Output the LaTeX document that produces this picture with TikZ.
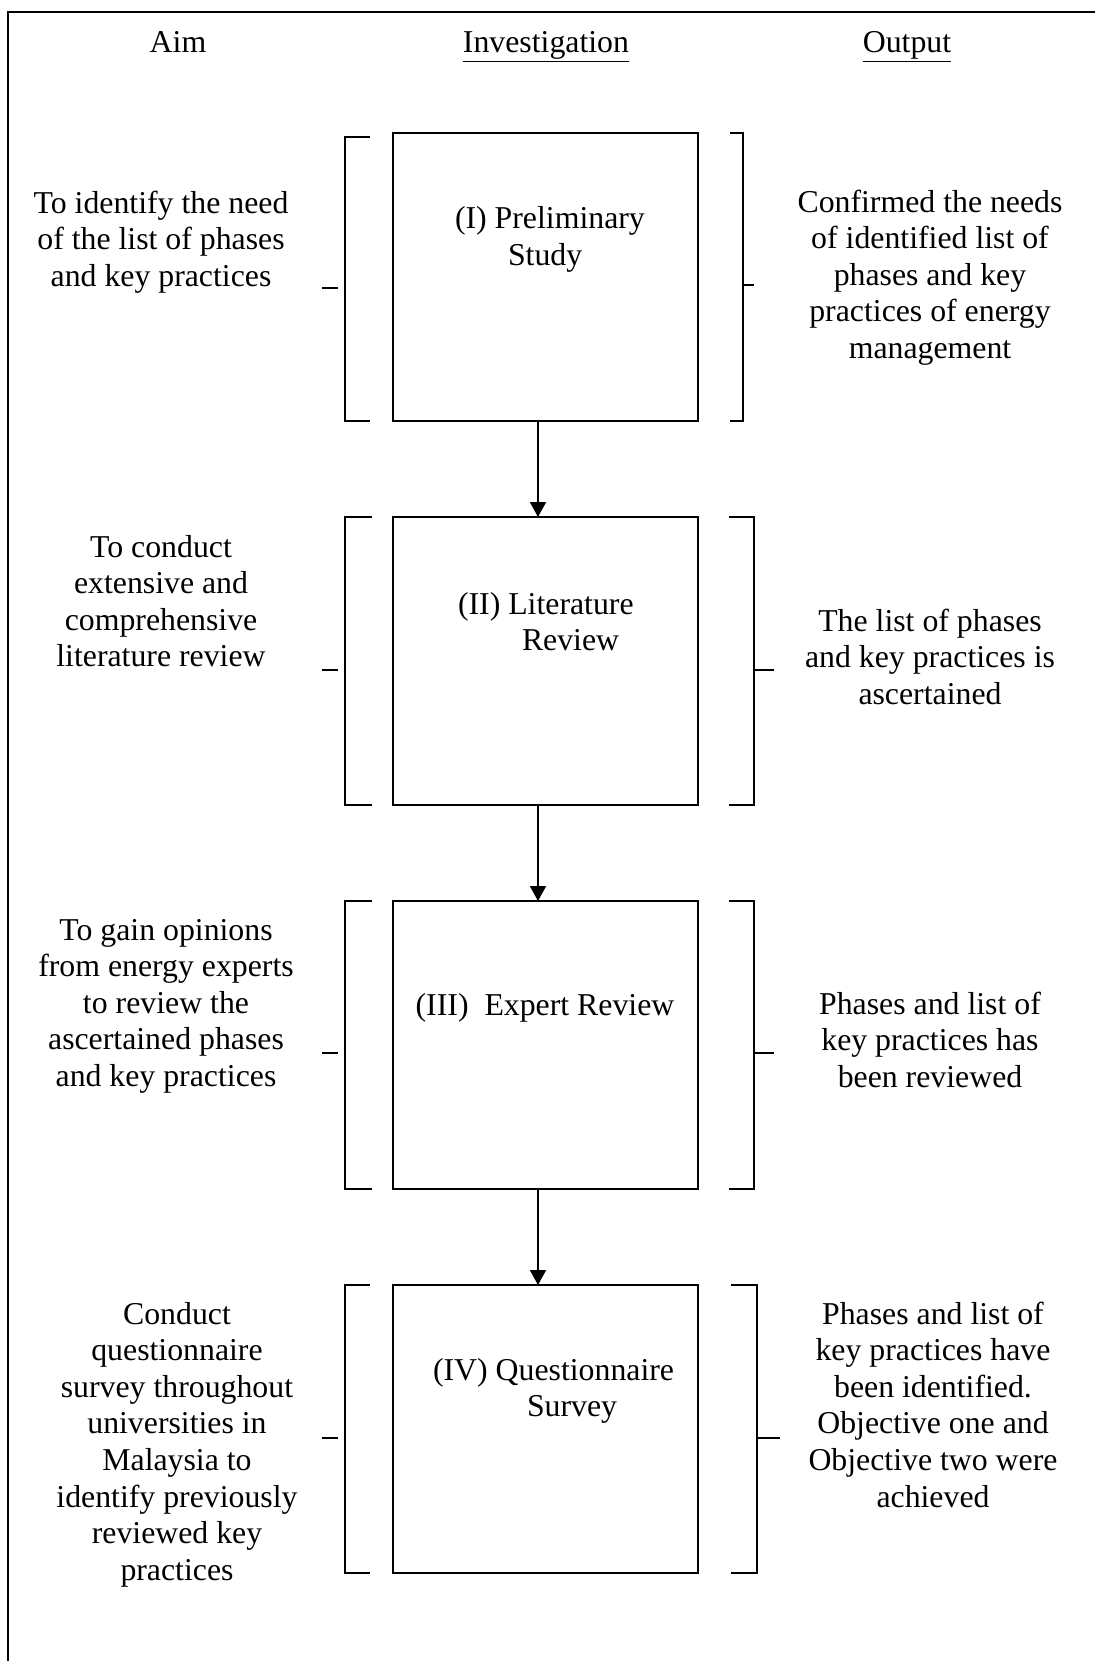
\documentclass[tikz,border=0pt]{standalone}
\usepackage{fontspec}
\setmainfont{Liberation Serif}
\usetikzlibrary{arrows.meta}
\begin{document}
\begin{tikzpicture}[x=0.5pt,y=-0.5pt,
  every node/.style={inner sep=0pt,outer sep=0pt,font=\fontsize{15.9}{18.3}\selectfont},
  stagebox/.style={draw,line width=1pt,minimum width=152.5pt,minimum height=144pt},
  ln/.style={line width=1pt},
  arr/.style={line width=1pt,-{Triangle[width=8pt,length=7.5pt]}},
  txt/.style={align=center,anchor=base},
  boxtxt/.style={align=left,anchor=base west}]
\useasboundingbox (0,0) rectangle (1095,1661);
% frame
\draw[ln] (1095,12) -- (8,12) -- (8,1661);
% headers
\node[anchor=base] (hAim) at (178,52) {Aim};
\node[anchor=base] (hInv) at (546,52) {\underline{Investigation}};
\node[anchor=base] (hOut) at (907,52) {\underline{Output}};
% boxes
\node[stagebox] (b1) at (545.5,277) {};
\node[stagebox] (b2) at (545.5,661) {};
\node[stagebox] (b3) at (545.5,1045) {};
\node[stagebox] (b4) at (545.5,1429) {};
% box texts (anchor at baseline of last line)
\node[boxtxt] (t1) at (455,265) {(I) Preliminary\\\hspace*{26.5pt}Study};
\node[boxtxt] (t2) at (458,650.6) {(II) Literature\\\hspace*{32pt}Review};
\node[anchor=base] (t3) at (545,1015) {(III)~ Expert Review};
\node[boxtxt] (t4) at (433,1416.6) {(IV) Questionnaire\\\hspace*{47pt}Survey};
% arrows
\draw[arr] ([xshift=-3.75pt]b1.south) -- ([xshift=-3.75pt]b2.north);
\draw[arr] ([xshift=-3.75pt]b2.south) -- ([xshift=-3.75pt]b3.north);
\draw[arr] ([xshift=-3.75pt]b3.south) -- ([xshift=-3.75pt]b4.north);
% left brackets and ticks
\draw[ln] (370,137) -- (345,137) -- (345,421) -- (370,421);
\draw[ln] (322,288) -- (338,288);
\draw[ln] (372,517) -- (345,517) -- (345,805) -- (372,805);
\draw[ln] (322,670) -- (338,670);
\draw[ln] (372,901) -- (345,901) -- (345,1189) -- (372,1189);
\draw[ln] (322,1053) -- (338,1053);
\draw[ln] (370,1285) -- (345,1285) -- (345,1573) -- (370,1573);
\draw[ln] (322,1438) -- (338,1438);
% right brackets and ticks
\draw[ln] (730,133) -- (743,133) -- (743,421) -- (730,421);
\draw[ln] (743,285) -- (754,285);
\draw[ln] (729,517) -- (754,517) -- (754,805) -- (729,805);
\draw[ln] (754,670) -- (774,670);
\draw[ln] (729,901) -- (754,901) -- (754,1189) -- (729,1189);
\draw[ln] (754,1053) -- (774,1053);
\draw[ln] (731,1285) -- (757,1285) -- (757,1573) -- (731,1573);
\draw[ln] (757,1438) -- (780,1438);
% aims (anchor at baseline of last line)
\node[txt] (a1) at (161,286.2) {To identify the need\\of the list of phases\\and key practices};
\node[txt] (a2) at (161,666.8) {To conduct\\extensive and\\comprehensive\\literature review};
\node[txt] (a3) at (166,1086.4) {To gain opinions\\from energy experts\\to review the\\ascertained phases\\and key practices};
\node[txt] (a4) at (177,1580.2) {Conduct\\questionnaire\\survey throughout\\universities in\\Malaysia to\\identify previously\\reviewed key\\practices};
% outputs
\node[txt] (o1) at (930,358.4) {Confirmed the needs\\of identified list of\\phases and key\\practices of energy\\management};
\node[txt] (o2) at (930,704.2) {The list of phases\\and key practices is\\ascertained};
\node[txt] (o3) at (930,1087.2) {Phases and list of\\key practices has\\been reviewed};
\node[txt] (o4) at (933,1507) {Phases and list of\\key practices have\\been identified.\\Objective one and\\Objective two were\\achieved};
\end{tikzpicture}
\end{document}
